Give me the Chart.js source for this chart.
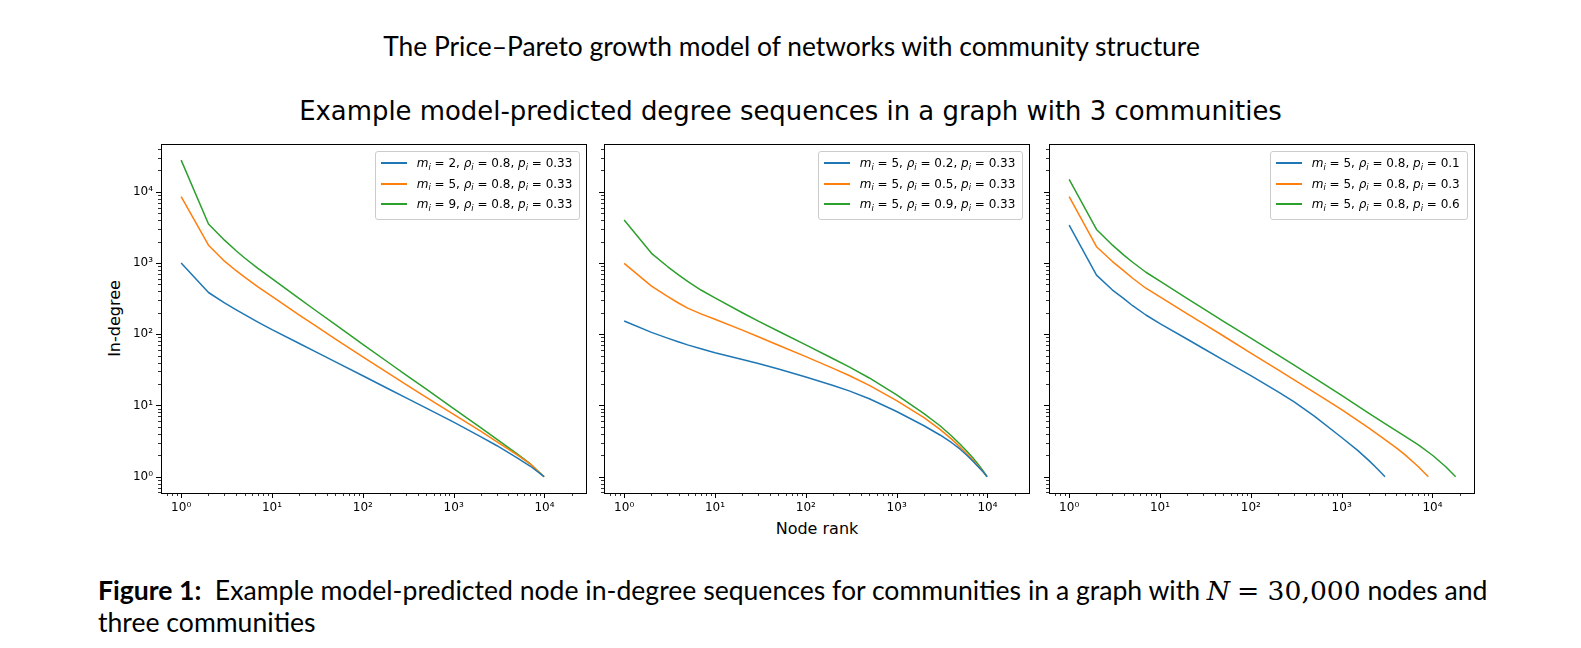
<!DOCTYPE html>
<html>
<head>
<meta charset="utf-8">
<script src="https://cdn.jsdelivr.net/npm/chart.js@4.4.1/dist/chart.umd.min.js"></script>
<style>
  html, body { margin:0; padding:0; background:#fff; }
  body { width:1581px; height:648px; overflow:hidden; position:relative; font-family:'DejaVu Sans', sans-serif; color:#000; }
  .abs { position:absolute; white-space:nowrap; }
  canvas { position:absolute; }
  .legend { position:absolute; background:rgba(255,255,255,0.8); border:1px solid #cccccc; border-radius:3px;
            padding:1px 7px 4px 4.7px; font:12px 'DejaVu Sans'; color:#000; box-sizing:border-box; }
  .row { height:20.5px; display:flex; align-items:center; white-space:nowrap; }
  .sw { width:26px; height:1.6px; margin-right:10px; flex:none; }
  .lab i { font-style:italic; }
  .lab sub { font-size:70%; font-style:italic; position:relative; top:0.3em; vertical-align:baseline; line-height:0; }
  .serif { font-family:'DejaVu Serif', serif; }
</style>
</head>
<body>
<div id="t1" class="abs" style="font-family:Lato;">The Price–Pareto growth model of networks with community structure</div>
<div id="t2" class="abs" style="font-family:'DejaVu Sans';">Example model-predicted degree sequences in a graph with 3 communities</div>
<div id="ylab" class="abs" style="font:16px 'DejaVu Sans';">In-degree</div>
<div id="xlab" class="abs" style="font:16px 'DejaVu Sans';">Node rank</div>
<div id="cap1" class="abs" style="font-family:Lato;"><b>Figure 1:</b>&nbsp; Example model-predicted node in-degree sequences for communities in a graph with <i class="serif">N</i> <span class="serif">= 30,000</span> nodes and</div>
<div id="cap2" class="abs" style="font-family:Lato;">three communities</div>

<script>
// ---------------- data ----------------
// Panel 1: varying m_i
const ranksP1 = [1, 2, 3, 4, 5, 7, 10, 20, 30, 50, 100, 200, 300, 500, 1000, 2000, 3000, 5000, 7000, 9900];
const p1Blue   = [1000, 385, 275, 221, 188, 148, 116, 74.1, 57, 40.9, 26.1, 16.6, 12.8, 9.16, 5.83, 3.63, 2.72, 1.84, 1.40, 1];
const p1Orange = [8511, 1778, 1059, 785, 631, 462, 339, 186, 132, 85.5, 47.9, 27.2, 19.6, 13.0, 7.5, 4.32, 3.09, 2.02, 1.5, 1];
const p1Green  = [27800, 3516, 2089, 1496, 1175, 841, 603, 316, 217, 136, 72.1, 38.5, 26.7, 16.9, 9.04, 4.85, 3.35, 2.09, 1.51, 1];
const p1M   = [2, 5, 9];
const p1Rho = [0.8, 0.8, 0.8];
const p1P   = [0.33, 0.33, 0.33];

// Panel 2: varying rho_i
const ranksP2 = [1, 2, 3, 4, 5, 7, 10, 20, 30, 50, 100, 200, 300, 500, 1000, 2000, 3000, 4000, 5000, 6000, 7000, 8000, 9000, 9900];
const p2Blue   = [153, 106, 88, 77.6, 70.8, 62.4, 55, 44.2, 38.9, 32.4, 25.1, 19.1, 16, 12.4, 8.22, 5.19, 3.85, 3.02, 2.43, 1.97, 1.62, 1.36, 1.16, 1];
const p2Orange = [986, 474, 339, 272, 232, 193, 162, 114, 92, 70, 48.4, 33.1, 26.3, 19.1, 11.7, 6.76, 4.62, 3.39, 2.6, 2.07, 1.68, 1.38, 1.16, 1];
const p2Green  = [4000, 1365, 891, 676, 550, 417, 324, 200, 153, 110, 70.8, 45.2, 34.7, 24.3, 14.1, 7.67, 5.19, 3.76, 2.85, 2.24, 1.8, 1.46, 1.19, 1];
const p2M   = [5, 5, 5];
const p2Rho = [0.2, 0.5, 0.9];
const p2P   = [0.33, 0.33, 0.33];

// Panel 3: varying p_i (community size N*p_i)
const ranksP3Blue   = [1, 2, 3, 4, 5, 7, 10, 20, 30, 50, 100, 200, 300, 500, 1000, 1500, 2000, 2500, 3000];
const ranksP3Orange = [1, 2, 3, 4, 5, 7, 10, 20, 30, 50, 100, 200, 300, 500, 1000, 2000, 3000, 4000, 5000, 7000, 9000];
const ranksP3Green  = [1, 2, 3, 4, 5, 7, 10, 20, 30, 50, 100, 200, 300, 500, 1000, 2000, 3000, 5000, 7000, 10000, 14000, 18000];
const p3Blue   = [3405, 676, 417, 316, 251, 186, 141, 85, 63, 43.2, 26.3, 15.5, 11.2, 7.08, 3.55, 2.34, 1.68, 1.27, 1];
const p3Orange = [8511, 1690, 1047, 776, 610, 442, 335, 193, 141, 94.4, 54.3, 31.6, 22.9, 15.3, 8.71, 4.79, 3.31, 2.54, 2.02, 1.38, 1];
const p3Green  = [14900, 2958, 1778, 1288, 1023, 741, 556, 316, 229, 151, 88.1, 50.7, 36.7, 24.3, 13.8, 7.76, 5.56, 3.67, 2.79, 2.0, 1.38, 1];
const p3M   = [5, 5, 5];
const p3Rho = [0.8, 0.8, 0.8];
const p3P   = [0.1, 0.3, 0.6];

const seriesColors = ['#1f77b4', '#ff7f0e', '#2ca02c'];
const xLimits = [Math.pow(10, -0.2128), Math.pow(10, 4.468)];
const yLimits = [Math.pow(10, -0.229), Math.pow(10, 4.67)];

// ---------------- layout ----------------
const PANEL_LEFTS = [161, 604, 1049];
const AREA_TOP = 144, AREA_H = 349, AREA_W = 426;
const YAXIS_W = 60, XAXIS_H = 40, PAD_TOP = 10, PAD_RIGHT = 8;

const SUP = {'0':'⁰','1':'¹','2':'²','3':'³','4':'⁴','5':'⁵','6':'⁶','7':'⁷','8':'⁸','9':'⁹','-':'⁻'};
function isMajor(v) { const l = Math.log10(v); return Math.abs(l - Math.round(l)) < 1e-9; }
function powLabel(v) { const e = String(Math.round(Math.log10(v))); return '10' + e.split('').map(c => SUP[c]).join(''); }
function logTicks(min, max) {
  const out = [];
  for (let d = -2; d <= 6; d++) for (let m = 1; m <= 9; m++) {
    const v = m * Math.pow(10, d);
    if (v >= min * (1 - 1e-9) && v <= max * (1 + 1e-9)) out.push({ value: v });
  }
  return out;
}
function pts(xs, ys) { return xs.map((x, i) => ({ x: x, y: ys[i] })); }

const frameTicks = {
  id: 'frameTicks',
  afterDraw(chart) {
    const ctx = chart.ctx, a = chart.chartArea;
    ctx.save();
    ctx.strokeStyle = '#000';
    ['x', 'y'].forEach(id => {
      const s = chart.scales[id];
      s.ticks.forEach(t => {
        const major = isMajor(t.value);
        const len = major ? 5 : 3;
        ctx.lineWidth = major ? 1 : 0.8;
        const p = Math.round(s.getPixelForValue(t.value)) + 0.5;
        ctx.beginPath();
        if (id === 'x') {
          if (p < a.left - 0.5 || p > a.right + 0.5) return;
          ctx.moveTo(p, a.bottom); ctx.lineTo(p, a.bottom + len);
        } else {
          if (p < a.top - 0.5 || p > a.bottom + 0.5) return;
          ctx.moveTo(a.left, p); ctx.lineTo(a.left - len, p);
        }
        ctx.stroke();
      });
    });
    ctx.lineWidth = 1;
    ctx.strokeRect(Math.round(a.left) + 0.5, Math.round(a.top) + 0.5, Math.round(a.right - a.left) - 1, Math.round(a.bottom - a.top));
    ctx.restore();
  }
};

function legendLabelHTML(m, rho, p) {
  return '<i>m</i><sub>i</sub> = ' + m + ', <i>ρ</i><sub>i</sub> = ' + rho + ', <i>p</i><sub>i</sub> = ' + p;
}

function makePanel(idx, datasets, params, showYLabels) {
  const cv = document.createElement('canvas');
  const W = YAXIS_W + AREA_W + PAD_RIGHT, H = PAD_TOP + AREA_H + XAXIS_H;
  cv.width = W; cv.height = H;
  cv.style.width = W + 'px'; cv.style.height = H + 'px';
  const cLeft = PANEL_LEFTS[idx] - YAXIS_W, cTop = AREA_TOP - PAD_TOP;
  cv.style.left = cLeft + 'px'; cv.style.top = cTop + 'px';
  document.body.appendChild(cv);

  const chart = new Chart(cv.getContext('2d'), {
    type: 'line',
    data: {
      datasets: datasets.map((d, i) => ({
        label: 'm_i = ' + params.m[i] + ', ρ_i = ' + params.rho[i] + ', p_i = ' + params.p[i],
        data: pts(d.x, d.y),
        borderColor: seriesColors[i],
        backgroundColor: seriesColors[i],
        borderWidth: 1.5,
        pointRadius: 0,
        fill: false,
        tension: 0,
        borderJoinStyle: 'round'
      }))
    },
    options: {
      responsive: false,
      animation: false,
      devicePixelRatio: 1,
      layout: { padding: { top: PAD_TOP, right: PAD_RIGHT, left: 0, bottom: 0 } },
      plugins: { legend: { display: false }, tooltip: { enabled: false }, title: { display: false } },
      scales: {
        x: {
          type: 'logarithmic',
          min: xLimits[0], max: xLimits[1],
          afterBuildTicks: s => { s.ticks = logTicks(xLimits[0], xLimits[1]); },
          afterFit: s => { s.height = XAXIS_H; s.paddingLeft = 0; s.paddingRight = 0; },
          ticks: {
            autoSkip: false, maxRotation: 0, minRotation: 0, padding: 3,
            color: '#000', font: { family: 'DejaVu Sans', size: 12 },
            callback: v => isMajor(v) ? powLabel(v) : ''
          },
          grid: { display: true, drawOnChartArea: false, drawTicks: true, tickLength: 5, color: 'rgba(0,0,0,0)', tickColor: 'rgba(0,0,0,0)' },
          border: { display: false }
        },
        y: {
          type: 'logarithmic',
          min: yLimits[0], max: yLimits[1],
          afterBuildTicks: s => { s.ticks = logTicks(yLimits[0], yLimits[1]); },
          afterFit: s => { s.width = YAXIS_W; s.paddingTop = 0; s.paddingBottom = 0; },
          ticks: {
            autoSkip: false, padding: 3,
            color: '#000', font: { family: 'DejaVu Sans', size: 12 },
            callback: v => (showYLabels && isMajor(v)) ? powLabel(v) : ''
          },
          grid: { display: true, drawOnChartArea: false, drawTicks: true, tickLength: 5, color: 'rgba(0,0,0,0)', tickColor: 'rgba(0,0,0,0)' },
          border: { display: false }
        }
      }
    },
    plugins: [frameTicks]
  });

  // legend (upper right, inside the axes)
  const a = chart.chartArea;
  const lg = document.createElement('div');
  lg.className = 'legend';
  lg.innerHTML = datasets.map((d, i) =>
    '<div class="row"><span class="sw" style="background:' + seriesColors[i] + '"></span><span class="lab">' +
    legendLabelHTML(params.m[i], params.rho[i], params.p[i]) + '</span></div>').join('');
  document.body.appendChild(lg);
  const w = lg.offsetWidth;
  lg.style.left = (cLeft + a.right - 7 - w) + 'px';
  lg.style.top = (cTop + a.top + 7) + 'px';
  return chart;
}

makePanel(0, [
  { x: ranksP1, y: p1Blue }, { x: ranksP1, y: p1Orange }, { x: ranksP1, y: p1Green }
], { m: p1M, rho: p1Rho, p: p1P }, true);
makePanel(1, [
  { x: ranksP2, y: p2Blue }, { x: ranksP2, y: p2Orange }, { x: ranksP2, y: p2Green }
], { m: p2M, rho: p2Rho, p: p2P }, false);
makePanel(2, [
  { x: ranksP3Blue, y: p3Blue }, { x: ranksP3Orange, y: p3Orange }, { x: ranksP3Green, y: p3Green }
], { m: p3M, rho: p3Rho, p: p3P }, false);

// ---------------- text placement ----------------
function fitWidth(el, target) {
  el.style.fontSize = '20px';
  const w = el.getBoundingClientRect().width;
  el.style.fontSize = (20 * target / w) + 'px';
}
function centerAt(el, cx, cy) {
  const r = el.getBoundingClientRect();
  el.style.left = (cx - r.width / 2) + 'px';
  el.style.top = (cy - r.height / 2) + 'px';
}
const t1 = document.getElementById('t1');
fitWidth(t1, 817); centerAt(t1, 791.5, 46);
const t2 = document.getElementById('t2');
fitWidth(t2, 983); centerAt(t2, 790.5, 111);
const xl = document.getElementById('xlab');
centerAt(xl, 817, 528);
const yl = document.getElementById('ylab');
centerAt(yl, 114, 318.5);
yl.style.transform = 'rotate(-90deg)';
const c1 = document.getElementById('cap1');
fitWidth(c1, 1390);
const cap1r = c1.getBoundingClientRect();
c1.style.left = '98px'; c1.style.top = (590 - cap1r.height / 2) + 'px';
const c2 = document.getElementById('cap2');
c2.style.fontSize = c1.style.fontSize;
const cap2r = c2.getBoundingClientRect();
c2.style.left = '98px'; c2.style.top = (622 - cap2r.height / 2) + 'px';
</script>
</body>
</html>
